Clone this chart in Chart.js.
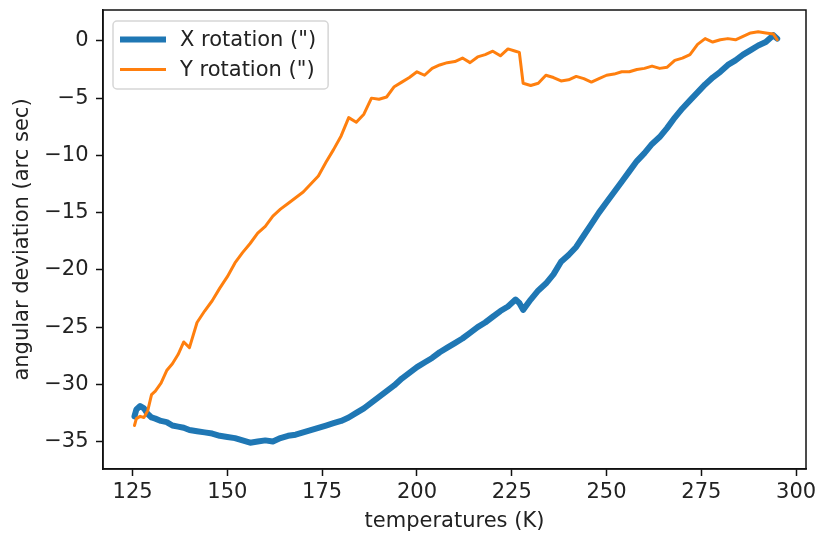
<!DOCTYPE html>
<html>
<head>
<meta charset="utf-8">
<script src="https://cdn.jsdelivr.net/npm/chart.js@4"></script>
<style>
  html, body { margin: 0; padding: 0; background: #fff; }
  #wrap { width: 816px; height: 535px; }
</style>
</head>
<body>
<div id="wrap"><canvas id="myChart"></canvas></div>
<script>
// temperatures (K), shared by both series
var temps = [125.5, 126, 127, 128, 129, 130, 131, 132.5, 134, 135.5, 137, 138.5, 140,
    142, 144, 146, 148, 150, 152, 154, 156, 158, 160, 162, 164, 166, 168, 170,
    172, 174, 176, 178, 180, 182, 184, 186, 188, 190, 192, 194, 196, 198, 200,
    202, 204, 206, 208, 210, 212, 214, 216, 218, 220, 222, 224, 226, 227, 228,
    230, 232, 234, 236, 238, 240, 242, 244, 246, 248, 250, 252, 254, 256, 258,
    260, 262, 264, 266, 268, 270, 272, 274, 276, 278, 280, 282, 284, 286, 288,
    290, 292, 294, 295];

// angular deviation, arc sec
var xRotation = [-32.8, -32.2, -31.9, -32.1, -32.6, -32.9, -33.0, -33.2, -33.3, -33.6, -33.7, -33.8, -34.0,
    -34.1, -34.2, -34.3, -34.5, -34.6, -34.7, -34.9, -35.1, -35.0, -34.9, -35.0, -34.7, -34.5, -34.4, -34.2,
    -34.0, -33.8, -33.6, -33.4, -33.2, -32.9, -32.5, -32.1, -31.6, -31.1, -30.6, -30.1, -29.5, -29.0, -28.5,
    -28.1, -27.7, -27.2, -26.8, -26.4, -26.0, -25.5, -25.0, -24.6, -24.1, -23.6, -23.2, -22.6, -22.9, -23.5,
    -22.6, -21.8, -21.2, -20.4, -19.3, -18.7, -18.0, -17.0, -16.0, -15.0, -14.1, -13.2, -12.3, -11.4, -10.5,
    -9.8, -9.0, -8.4, -7.6, -6.7, -5.9, -5.2, -4.5, -3.8, -3.2, -2.7, -2.1, -1.7, -1.2, -0.8,
    -0.4, -0.1, 0.5, 0.2];

var yRotation = [-33.6, -33.0, -32.8, -32.9, -32.3, -30.9, -30.6, -29.9, -28.8, -28.2, -27.4, -26.3, -26.8,
    -24.6, -23.6, -22.7, -21.6, -20.6, -19.4, -18.5, -17.7, -16.8, -16.2, -15.3, -14.7, -14.2, -13.7, -13.2,
    -12.5, -11.8, -10.6, -9.5, -8.3, -6.7, -7.1, -6.4, -5.0, -5.1, -4.9, -4.0, -3.6, -3.2, -2.7,
    -3.0, -2.4, -2.1, -1.9, -1.8, -1.5, -1.9, -1.4, -1.2, -0.9, -1.3, -0.7, -0.9, -1.0, -3.7,
    -3.9, -3.7, -3.0, -3.2, -3.5, -3.4, -3.1, -3.3, -3.6, -3.3, -3.0, -2.9, -2.7, -2.7, -2.5,
    -2.4, -2.2, -2.4, -2.3, -1.7, -1.5, -1.2, -0.3, 0.2, -0.1, 0.1, 0.2, 0.1, 0.4, 0.7,
    0.8, 0.7, 0.6, 0.1];

var xTicks = [125, 150, 175, 200, 225, 250, 275, 300];
var yTicks = [-35, -30, -25, -20, -15, -10, -5, 0];

var xColor = '#1f77b4';
var yColor = '#ff7f0e';
var fontFamily = "'DejaVu Sans', sans-serif";
var fontSize = 21;
var textColor = '#222';

function toPoints(vals) {
    return temps.map((t, i) => ({ x: t, y: vals[i] }));
}

function minusLabel(v) {
    return v < 0 ? '\u2212' + Math.abs(v) : String(v);
}

// matplotlib draws all four spines
const framePlugin = {
    id: 'frame',
    afterDatasetsDraw(chart) {
        const a = chart.chartArea, ctx = chart.ctx;
        ctx.save();
        ctx.strokeStyle = '#111';
        ctx.lineWidth = 1.5;
        ctx.strokeRect(a.left, a.top, a.right - a.left, a.bottom - a.top);
        ctx.restore();
    }
};

// legend box in the upper left corner of the axes
const boxLegend = {
    id: 'boxLegend',
    afterDraw(chart) {
        const a = chart.chartArea, ctx = chart.ctx;
        const sets = chart.data.datasets;
        ctx.save();
        ctx.font = fontSize + 'px ' + fontFamily;
        var textW = Math.max(...sets.map(d => ctx.measureText(d.label).width));
        var bx = a.left + 10, by = a.top + 11;
        var textX = bx + 67;
        var bw = textX - bx + textW + 12, bh = 68;
        ctx.fillStyle = 'rgba(255,255,255,0.8)';
        ctx.strokeStyle = 'rgba(204,204,204,0.8)';
        ctx.lineWidth = 1.5;
        ctx.beginPath();
        ctx.roundRect(bx, by, bw, bh, 4);
        ctx.fill();
        ctx.stroke();
        sets.forEach((d, i) => {
            var ly = by + 18.5 + i * 30;
            ctx.strokeStyle = d.borderColor;
            ctx.lineWidth = d.borderWidth;
            ctx.beginPath();
            ctx.moveTo(bx + 7, ly);
            ctx.lineTo(bx + 53, ly);
            ctx.stroke();
            ctx.fillStyle = textColor;
            ctx.textBaseline = 'middle';
            ctx.fillText(d.label, textX, ly + 1);
        });
        ctx.restore();
    }
};

function noEdgePadding(s) {
    s.paddingTop = 0; s.paddingBottom = 0;
    s.paddingLeft = 0; s.paddingRight = 0;
}

const data = {
    datasets: [
        {
            label: 'X rotation (")',
            data: toPoints(xRotation),
            borderColor: xColor,
            backgroundColor: xColor,
            borderWidth: 6,
            order: 1
        },
        {
            label: 'Y rotation (")',
            data: toPoints(yRotation),
            borderColor: yColor,
            backgroundColor: yColor,
            borderWidth: 3,
            order: 0
        }
    ]
};

const config = {
    type: 'line',
    data: data,
    options: {
        responsive: true,
        maintainAspectRatio: false,
        animation: false,
        layout: { padding: { top: 10, right: 10, left: 0, bottom: 0 } },
        elements: {
            point: { radius: 0 },
            line: { tension: 0, borderJoinStyle: 'round', borderCapStyle: 'round' }
        },
        plugins: {
            legend: { display: false },
            tooltip: { enabled: false }
        },
        scales: {
            x: {
                type: 'linear',
                min: 117.2,
                max: 302.6,
                afterBuildTicks: s => { s.ticks = xTicks.map(v => ({ value: v })); },
                afterFit: s => { s.height = 66; noEdgePadding(s); },
                grid: { drawOnChartArea: false, drawTicks: true, tickLength: 7, tickColor: '#111', tickWidth: 1.5 },
                border: { display: true, color: '#111', width: 1.5 },
                ticks: { color: textColor, padding: 4, maxRotation: 0, font: { family: fontFamily, size: fontSize } },
                title: {
                    display: true,
                    text: 'temperatures (K)',
                    color: textColor,
                    padding: { top: 0, bottom: 1 },
                    font: { family: fontFamily, size: fontSize }
                }
            },
            y: {
                type: 'linear',
                min: -37.4,
                max: 2.7,
                afterBuildTicks: s => { s.ticks = yTicks.map(v => ({ value: v })); },
                afterFit: s => { s.width = 103; noEdgePadding(s); },
                grid: { drawOnChartArea: false, drawTicks: true, tickLength: 7, tickColor: '#111', tickWidth: 1.5 },
                border: { display: true, color: '#111', width: 1.5 },
                ticks: { color: textColor, padding: 7.5, callback: minusLabel, font: { family: fontFamily, size: fontSize } },
                title: {
                    display: true,
                    text: 'angular deviation (arc sec)',
                    color: textColor,
                    padding: { top: 10, bottom: 0 },
                    font: { family: fontFamily, size: fontSize }
                }
            }
        }
    },
    plugins: [framePlugin, boxLegend]
};

var myChart = new Chart(document.getElementById('myChart'), config);
</script>
</body>
</html>
